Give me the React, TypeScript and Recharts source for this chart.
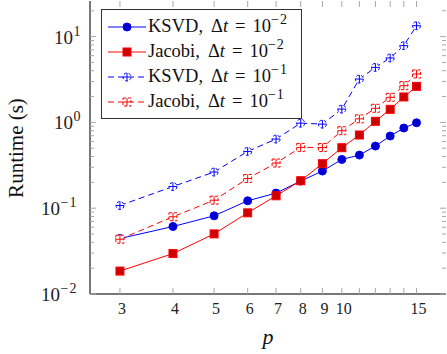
import React from "react";
import { LineChart, Line, XAxis, YAxis } from "recharts";

const pValues = [3, 4, 5, 6, 7, 8, 9, 10, 11, 12, 13, 14, 15];
const ksvdFine = [0.0443, 0.0612, 0.0815, 0.122, 0.15, 0.207, 0.271, 0.37, 0.416, 0.53, 0.694, 0.86, 0.99];
const jacobiFine = [0.0185, 0.0296, 0.0502, 0.0883, 0.1395, 0.209, 0.33, 0.507, 0.713, 1.03, 1.42, 1.98, 2.63];
const ksvdCoarse = [0.1075, 0.179, 0.264, 0.459, 0.64, 0.98, 0.955, 1.43, 3.2, 4.38, 5.64, 7.85, 13.4];
const jacobiCoarse = [0.0435, 0.0794, 0.124, 0.222, 0.336, 0.511, 0.51, 0.8, 1.1, 1.46, 1.96, 2.68, 3.67];

const xTicks = [3, 4, 5, 6, 7, 8, 9, 10, 11, 12, 13, 14, 15];
const xLabeled = [3, 4, 5, 6, 7, 8, 9, 10, 15];
const yMajor = [0.01, 0.1, 1, 10];
const yMinor = [0.02, 0.03, 0.04, 0.05, 0.06, 0.07, 0.08, 0.09, 0.2, 0.3, 0.4, 0.5, 0.6, 0.7, 0.8, 0.9, 2, 3, 4, 5, 6, 7, 8, 9, 20];
const yExp: Record<number, string> = { 0.01: "−2", 0.1: "−1", 1: "0", 10: "1" };

const data = pValues.map((p, i) => ({
  p,
  ksvdFine: ksvdFine[i],
  jacobiFine: jacobiFine[i],
  ksvdCoarse: ksvdCoarse[i],
  jacobiCoarse: jacobiCoarse[i],
}));

const W = 447;
const H = 354;
const LEFT = 90;
const TOP = 1;
const RIGHT = 1;
const XH = 60;
const PW = W - LEFT - RIGHT;
const PH = H - TOP - XH;
const BOTTOM = TOP + PH;
const FONT = "'Liberation Serif', 'Times New Roman', Times, 'DejaVu Serif', serif";
const AXIS = "#4a4a4a";
const TICK = "#a8a8a8";

const BLUE = "#0000ff";
const BLUE_FILL = "#0000cc";
const RED = "#ff0000";
const RED_FILL = "#cc0000";

// ticks drawn inside the frame on both sides, like pgfplots
function XTick({ x, payload }: any) {
  const v = payload.value;
  return (
    <g>
      <line x1={x} y1={BOTTOM} x2={x} y2={BOTTOM - 6} stroke={TICK} />
      <line x1={x} y1={TOP} x2={x} y2={TOP + 6} stroke={TICK} />
      {xLabeled.includes(v) && (
        <text x={x + 2} y={BOTTOM + 20} textAnchor="middle" fontFamily={FONT} fontSize={16} fill="#222">
          {v}
        </text>
      )}
    </g>
  );
}

// "10" and the exponent as two texts
function YTick({ y, payload }: any) {
  const v = payload.value;
  const exp = yExp[v];
  const major = exp !== undefined;
  const len = major ? 6 : 4;
  const supX = major && exp.startsWith("−") ? LEFT - 30 : LEFT - 17;
  return (
    <g>
      <line x1={LEFT} y1={y} x2={LEFT + len} y2={y} stroke={TICK} />
      <line x1={LEFT + PW - len} y1={y} x2={LEFT + PW} y2={y} stroke={TICK} />
      {major && (
        <>
          <text x={supX} y={y + 7} textAnchor="end" fontFamily={FONT} fontSize={19} fill="#222">
            10
          </text>
          <text x={supX + 0.5} y={y - 1} textAnchor="start" fontFamily={FONT} fontSize={14} fill="#222" letterSpacing={1}>
            {exp}
          </text>
        </>
      )}
    </g>
  );
}

function CircleDot({ cx, cy }: any) {
  if (cx == null || cy == null) return null;
  return <circle cx={cx} cy={cy} r={4} fill={BLUE_FILL} stroke={BLUE} strokeWidth={1} />;
}

function SquareDot({ cx, cy }: any) {
  if (cx == null || cy == null) return null;
  return <rect x={cx - 4} y={cy - 4} width={8} height={8} fill={RED_FILL} stroke={RED} strokeWidth={1} />;
}

function OplusDot({ cx, cy }: any) {
  if (cx == null || cy == null) return null;
  return (
    <g stroke={BLUE} strokeWidth={1} fill="white">
      <circle cx={cx} cy={cy} r={4} strokeDasharray="3 2" />
      <line x1={cx - 4} y1={cy} x2={cx + 4} y2={cy} />
      <line x1={cx} y1={cy - 4} x2={cx} y2={cy + 4} />
    </g>
  );
}

function BoxplusDot({ cx, cy }: any) {
  if (cx == null || cy == null) return null;
  return (
    <g stroke={RED} strokeWidth={1} fill="white">
      <rect x={cx - 4} y={cy - 4} width={8} height={8} strokeDasharray="3 2" />
      <line x1={cx - 4} y1={cy} x2={cx + 4} y2={cy} />
      <line x1={cx} y1={cy - 4} x2={cx} y2={cy + 4} />
    </g>
  );
}

const series = [
  { key: "ksvdFine", name: "KSVD", exp: "−2", color: BLUE, dash: undefined, Dot: CircleDot },
  { key: "jacobiFine", name: "Jacobi", exp: "−2", color: RED, dash: undefined, Dot: SquareDot },
  { key: "ksvdCoarse", name: "KSVD", exp: "−1", color: BLUE, dash: "6 4", Dot: OplusDot },
  { key: "jacobiCoarse", name: "Jacobi", exp: "−1", color: RED, dash: "6 4", Dot: BoxplusDot },
];

function LegendBox() {
  return (
    <div
      style={{
        position: "absolute",
        left: 101,
        top: 9,
        width: 201,
        height: 110,
        border: "1.3px solid #333",
        background: "white",
        fontFamily: FONT,
        fontSize: 18.5,
        color: "#111",
        boxSizing: "border-box",
        paddingTop: 4,
      }}
    >
      {series.map((s) => (
        <div key={s.key} style={{ height: 25, position: "relative" }}>
          <svg width={38} height={14} style={{ position: "absolute", left: 6, top: 6 }}>
            <line x1={0} y1={7} x2={38} y2={7} stroke={s.color} strokeWidth={1} strokeDasharray={s.dash} />
            <s.Dot cx={19} cy={7} />
          </svg>
          <span style={{ position: "absolute", left: 46, top: 1, whiteSpace: "nowrap", lineHeight: "22px" }}>
            {s.name},<span style={{ marginLeft: 8 }}>Δ</span>
            <i>t</i>
            <span style={{ margin: "0 7px" }}>=</span>10
            <span style={{ fontSize: 14, position: "relative", top: -8, letterSpacing: 1 }}>{s.exp}</span>
          </span>
        </div>
      ))}
    </div>
  );
}

export default function App() {
  return (
    <div style={{ position: "absolute", left: 0, top: 0, width: W, height: H, background: "white" }}>
      <LineChart width={W} height={H} data={data} margin={{ top: TOP, right: RIGHT, bottom: 0, left: 0 }}>
        <XAxis
          dataKey="p"
          type="number"
          scale="log"
          domain={[2.55, 17.6]}
          allowDataOverflow
          ticks={xTicks}
          interval={0}
          tick={<XTick />}
          tickSize={0}
          tickMargin={0}
          tickLine={false}
          height={XH}
          axisLine={{ stroke: AXIS, strokeWidth: 1.5 }}
        />
        <XAxis xAxisId="top" orientation="top" height={0} tick={false} axisLine={{ stroke: AXIS, strokeWidth: 1.5 }} />
        <YAxis
          type="number"
          scale="log"
          domain={[0.01, 26]}
          allowDataOverflow
          ticks={[...yMajor, ...yMinor]}
          interval={0}
          tick={<YTick />}
          tickSize={0}
          tickMargin={0}
          tickLine={false}
          width={LEFT}
          axisLine={{ stroke: AXIS, strokeWidth: 1.5 }}
        />
        <YAxis yAxisId="right" orientation="right" width={0} tick={false} axisLine={{ stroke: AXIS, strokeWidth: 1.5 }} />
        {series.map((s) => (
          <Line
            key={s.key}
            dataKey={s.key}
            stroke={s.color}
            strokeWidth={1}
            strokeDasharray={s.dash}
            dot={<s.Dot />}
            activeDot={false}
            isAnimationActive={false}
            type="linear"
          />
        ))}
      </LineChart>
      <div
        style={{
          position: "absolute",
          left: 16,
          top: 148,
          transform: "translate(-50%, -50%) rotate(-90deg)",
          fontFamily: FONT,
          fontSize: 21,
          color: "#111",
          whiteSpace: "nowrap",
        }}
      >
        Runtime (s)
      </div>
      <div
        style={{
          position: "absolute",
          left: 268,
          top: 337,
          transform: "translate(-50%, -50%)",
          fontFamily: FONT,
          fontStyle: "italic",
          fontSize: 22,
          color: "#111",
        }}
      >
        p
      </div>
      <LegendBox />
    </div>
  );
}
